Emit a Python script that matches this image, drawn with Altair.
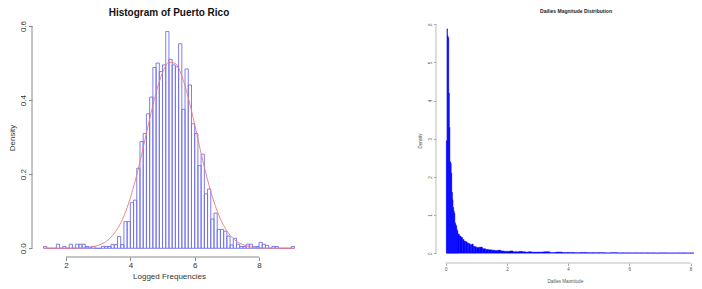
import altair as alt
import pandas as pd

FONT = "Liberation Sans"

# ---------------- Left panel: Histogram of Puerto Rico ----------------
pr_bin_start = [1.3, 1.4, 1.5, 1.6, 1.7, 1.8, 1.9, 2.0, 2.1, 2.2,
                2.3, 2.4, 2.5, 2.6, 2.7, 2.8, 2.9, 3.0, 3.1, 3.2,
                3.3, 3.4, 3.5, 3.6, 3.7, 3.8, 3.9, 4.0, 4.1, 4.2,
                4.3, 4.4, 4.5, 4.6, 4.7, 4.8, 4.9, 5.0, 5.1, 5.2,
                5.3, 5.4, 5.5, 5.6, 5.7, 5.8, 5.9, 6.0, 6.1, 6.2,
                6.3, 6.4, 6.5, 6.6, 6.7, 6.8, 6.9, 7.0, 7.1, 7.2,
                7.3, 7.4, 7.5, 7.6, 7.7, 7.8, 7.9, 8.0, 8.1, 8.2,
                8.3, 8.4, 8.5, 8.6, 8.7, 8.8, 8.9, 9.0]
pr_density = [0.005, 0, 0, 0, 0.011, 0, 0.005, 0, 0.011, 0,
              0.011, 0.011, 0.011, 0.005, 0.003, 0.005, 0, 0, 0.005, 0.005,
              0.005, 0.01, 0.01, 0.032, 0.01, 0.072, 0.072, 0.123, 0.13, 0.216,
              0.288, 0.31, 0.363, 0.408, 0.488, 0.5, 0.477, 0.495, 0.585, 0.51,
              0.495, 0.49, 0.552, 0.375, 0.484, 0.441, 0.336, 0.31, 0.223, 0.254,
              0.147, 0.16, 0.079, 0.095, 0.051, 0.051, 0.046, 0.033, 0.009, 0.027,
              0.011, 0.005, 0.005, 0.011, 0.011, 0.004, 0.005, 0.016, 0.011, 0.008,
              0, 0.005, 0.005, 0, 0, 0, 0, 0.005]
pr_bin_width = 0.1

pr_curve_x = [1.3, 2.0, 2.4, 2.8, 3.0, 3.2, 3.4, 3.6, 3.8, 4.0, 4.2, 4.4, 4.6, 4.8,
              5.0, 5.2, 5.4, 5.6, 5.8, 6.0, 6.2, 6.4, 6.6, 6.8, 7.0, 7.2, 7.4, 7.6,
              7.8, 8.0, 8.4, 9.1]
pr_curve_y = [0.0, 0.0001, 0.0007, 0.0037, 0.0078, 0.0157, 0.030, 0.053, 0.087, 0.136,
              0.198, 0.272, 0.349, 0.420, 0.474, 0.502, 0.499, 0.465, 0.407, 0.334,
              0.256, 0.185, 0.125, 0.079, 0.047, 0.026, 0.0138, 0.0068, 0.0031, 0.0013,
              0.0002, 0.0]

pr_xticks = [2, 4, 6, 8]
pr_yticks = [0.0, 0.1, 0.2, 0.3, 0.4, 0.5, 0.6]

# ---------------- Right panel: Dailies Magnitude Distribution ----------------
dm_bin_start = [0.02, 0.04, 0.06, 0.08, 0.10, 0.12, 0.14, 0.16, 0.18, 0.20,
                0.22, 0.24, 0.26, 0.28, 0.30, 0.32, 0.34, 0.36, 0.38, 0.40,
                0.45, 0.50, 0.55, 0.60, 0.65, 0.70, 0.75, 0.80, 0.85, 0.90,
                0.95, 1.0, 1.1, 1.2, 1.3, 1.4, 1.5, 1.6, 1.7, 1.8,
                1.9, 2.0, 2.1, 2.2, 2.3, 2.4, 2.5, 2.6, 2.7, 2.8,
                2.9, 3.0, 3.2, 3.4, 3.6, 3.8, 4.0, 4.2, 4.4, 4.6,
                4.8, 5.0, 5.2, 5.4, 5.6, 5.8, 6.0, 6.2, 6.4, 6.6,
                6.8, 7.0, 7.2, 7.4, 7.6, 7.8, 8.0, 8.2, 8.4]
dm_last_edge = 8.6
dm_density = [2.95, 5.88, 5.70, 5.65, 4.2, 3.3, 2.4, 2.35, 2.1, 1.6,
              1.4, 1.2, 1.1, 1.05, 0.8, 0.75, 0.72, 0.62, 0.58, 0.50,
              0.45, 0.42, 0.36, 0.32, 0.30, 0.27, 0.25, 0.22, 0.24, 0.18,
              0.17, 0.15, 0.16, 0.12, 0.10, 0.09, 0.08, 0.07, 0.08, 0.06,
              0.05, 0.05, 0.06, 0.04, 0.04, 0.05, 0.04, 0.03, 0.04, 0.03,
              0.03, 0.03, 0.04, 0.02, 0.03, 0.02, 0.02, 0.015, 0.02, 0.015,
              0.015, 0.015, 0.01, 0.015, 0.01, 0.01, 0.01, 0.01, 0.01, 0.01,
              0.008, 0.01, 0.008, 0.008, 0.01, 0.008, 0.008, 0.008, 0.008]

dm_xticks = [0, 2, 4, 6, 8]
dm_yticks = [0, 1, 2, 3, 4, 5, 6]

# ---------------- tables ----------------
pr_df = pd.DataFrame({
    "start": pr_bin_start,
    "end": [round(s + pr_bin_width, 2) for s in pr_bin_start],
    "density": pr_density,
    "base": [0.0] * len(pr_bin_start),
})
pr_curve_df = pd.DataFrame({"start": pr_curve_x, "density": pr_curve_y})
pr_xline = pd.DataFrame({"start": [pr_xticks[0]], "end": [pr_xticks[-1]]})
pr_yline = pd.DataFrame({"density": [pr_yticks[-1]], "base": [pr_yticks[0]]})

dm_df = pd.DataFrame({
    "start": dm_bin_start,
    "end": dm_bin_start[1:] + [dm_last_edge],
    "density": dm_density,
    "base": [0.0] * len(dm_bin_start),
})
dm_xline = pd.DataFrame({"start": [dm_xticks[0]], "end": [dm_xticks[-1]]})
dm_yline = pd.DataFrame({"density": [dm_yticks[-1]], "base": [dm_yticks[0]]})

# ---------------- left chart ----------------
LW, LH = 274, 239
pr_xs = alt.Scale(domain=[0.943, 9.46], nice=False, zero=False)
pr_ys = alt.Scale(domain=[-0.0235, 0.6216], nice=False, zero=False)

pr_bars = alt.Chart(pr_df).mark_rect(
    fill="#ffffff", fillOpacity=0, stroke="#7171ec", strokeWidth=0.9
).encode(
    x=alt.X("start:Q", scale=pr_xs, axis=alt.Axis(
        values=pr_xticks, format="d", domain=False, grid=False,
        tickSize=3.5, tickColor="#888888", labelFontSize=8, labelPadding=1,
        labelColor="#333333", labelOverlap=False, labelFlush=False,
        title="Logged Frequencies", titleFontSize=8, titleFontWeight="normal",
        titleColor="#333333", titlePadding=3)),
    x2="end:Q",
    y=alt.Y("density:Q", scale=pr_ys, axis=alt.Axis(
        values=pr_yticks, format=".1f", domain=False, grid=False,
        tickSize=3.5, tickColor="#888888", labelFontSize=8, labelPadding=1.5,
        labelAngle=270, labelAlign="center", labelBaseline="bottom",
        labelColor="#333333", labelOverlap=False, labelFlush=False,
        title="Density", titleFontSize=8, titleFontWeight="normal",
        titleColor="#333333", titlePadding=3)),
    y2="base:Q",
)
pr_curve = alt.Chart(pr_curve_df).mark_line(
    color="#f07a7a", strokeWidth=0.9, interpolate="monotone"
).encode(x="start:Q", y="density:Q")
pr_xrule = alt.Chart(pr_xline).mark_rule(color="#888888", strokeWidth=1).encode(
    x="start:Q", x2="end:Q", y=alt.value(LH))
pr_yrule = alt.Chart(pr_yline).mark_rule(color="#888888", strokeWidth=1).encode(
    y="density:Q", y2="base:Q", x=alt.value(0))

left = alt.layer(pr_bars, pr_curve, pr_xrule, pr_yrule).properties(
    width=LW, height=LH,
    title=alt.TitleParams("Histogram of Puerto Rico", fontSize=10, fontWeight="bold",
                          color="#111111", anchor="middle", offset=0),
)

# ---------------- right chart ----------------
RW, RH = 258, 245
dm_xs = alt.Scale(domain=[-0.317, 8.114], nice=False, zero=False)
dm_ys = alt.Scale(domain=[-0.2565, 6.165], nice=False, zero=False)

dm_bars = alt.Chart(dm_df).mark_rect(
    fill="#0000ff", stroke="#0000ff", strokeWidth=0.4, clip=True
).encode(
    x=alt.X("start:Q", scale=dm_xs, axis=alt.Axis(
        values=dm_xticks, format="d", domain=False, grid=False,
        tickSize=2.5, tickColor="#aaaaaa", labelFontSize=4.5, labelPadding=1,
        labelColor="#555555", labelOverlap=False, labelFlush=False,
        title="Dailies Magnitude", titleFontSize=4.5, titleFontWeight="normal",
        titleColor="#555555", titlePadding=7)),
    x2="end:Q",
    y=alt.Y("density:Q", scale=dm_ys, axis=alt.Axis(
        values=dm_yticks, format="d", domain=False, grid=False,
        tickSize=2.5, tickColor="#aaaaaa", labelFontSize=4.5, labelPadding=1.5,
        labelAngle=270, labelAlign="center", labelBaseline="bottom",
        labelColor="#555555", labelOverlap=False, labelFlush=False,
        title="Density", titleFontSize=4.5, titleFontWeight="normal",
        titleColor="#555555", titlePadding=4.5)),
    y2="base:Q",
)
dm_xrule = alt.Chart(dm_xline).mark_rule(color="#bbbbbb", strokeWidth=1).encode(
    x="start:Q", x2="end:Q", y=alt.value(RH))
dm_yrule = alt.Chart(dm_yline).mark_rule(color="#bbbbbb", strokeWidth=1).encode(
    y="density:Q", y2="base:Q", x=alt.value(0))

right = alt.layer(dm_bars, dm_xrule, dm_yrule).properties(
    width=RW, height=RH,
    title=alt.TitleParams("Dailies Magnitude Distribution", fontSize=5, fontWeight="bold",
                          color="#222222", anchor="middle", dx=11, offset=4.5),
)

chart = alt.hconcat(left, right, spacing=111).properties(
    padding={"left": 0, "top": 0, "right": 0, "bottom": 0},
    background="#ffffff",
).configure_view(stroke=None).configure_axis(
    labelFont=FONT, titleFont=FONT
).configure_title(font=FONT)

chart.save("out.html", embed_options={"renderer": "svg", "actions": False})
